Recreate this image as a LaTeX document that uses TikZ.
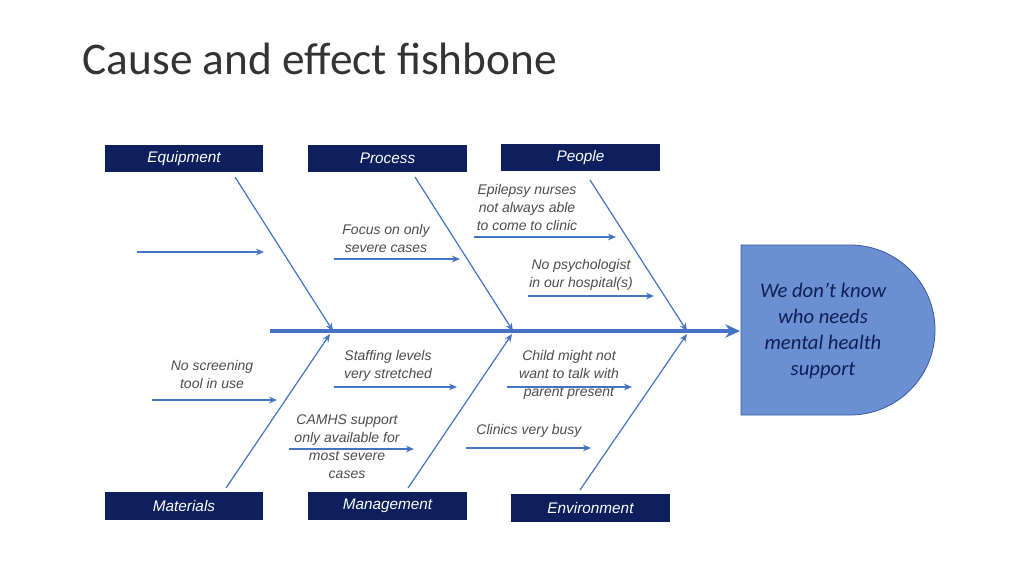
\documentclass[tikz,border=0pt]{standalone}
\usepackage{fontspec}
\setmainfont{Liberation Sans}
\newfontfamily\calib{Carlito}
\usetikzlibrary{arrows.meta}
\definecolor{navy}{HTML}{0D1F5C}
\definecolor{bone}{HTML}{4472C4}
\definecolor{headfill}{HTML}{6A8FD2}
\definecolor{headtext}{HTML}{0F1E55}
\tikzset{
  catbox/.style={fill=navy, text=white, minimum width=119pt, minimum height=20.5pt, inner sep=0pt, font=\itshape\fontsize{11.5}{13}\selectfont},
  cause/.style={align=center, text=black!70, font=\itshape\fontsize{10.5}{13.5}\selectfont, inner sep=0pt},
  bonearrow/.style={bone, line width=0.9pt, -{Stealth[length=6pt,width=5pt]}}
}
\begin{document}
\begin{tikzpicture}[x=0.75pt,y=-0.75pt]
\useasboundingbox (0,0) rectangle (1024,576);
\node[anchor=base west, font=\calib\fontsize{34}{40}\selectfont, text=black!80] (title) at (78,74) {Cause and effect fishbone};
% categories
\node[catbox] (equip) at (184,158.5) {Equipment};
\node[catbox] (proc) at (387.5,158.5) {Process};
\node[catbox] (people) at (580.5,157.5) {People};
\node[catbox] (mat) at (184,506) {Materials};
\node[catbox] (mgmt) at (387.5,506) {Management};
\node[catbox] (env) at (590.5,508) {Environment};
% effect head
\draw[fill=headfill, draw=bone!80!black, line width=0.6pt] (741,245) -- (850,245) arc[start angle=-90, end angle=90, radius=85] -- (741,415) -- cycle;
\node[align=center, text=headtext, font=\calib\itshape\fontsize{15.5}{19.5}\selectfont] (effect) at (823,331) {We don’t know\\who needs\\mental health\\support};
% spine
\coordinate (s0) at (270,331);
\coordinate (s1) at (740,331);
\draw[bone, line width=2.6pt, -{Stealth[length=11pt,width=10pt]}] (s0) -- (s1);
% bones
\coordinate (b1) at (235,177); \coordinate (e1) at (333,331);
\coordinate (b2) at (415,177); \coordinate (e2) at (513,331);
\coordinate (b3) at (590,180); \coordinate (e3) at (687,331);
\coordinate (b4) at (226,488); \coordinate (e4) at (330,334);
\coordinate (b5) at (408,488); \coordinate (e5) at (512,334);
\coordinate (b6) at (580,490); \coordinate (e6) at (687,334);
\foreach \i in {1,...,6} \draw[bonearrow] (b\i) -- (e\i);
% causes
\node[cause] (focus) at (386,238) {Focus on only\\severe cases};
\node[cause] (epil) at (527,207) {Epilepsy nurses\\not always able\\to come to clinic};
\node[cause] (psych) at (581,275) {No psychologist\\in our hospital(s)};
\node[cause] (screen) at (212,374) {No screening\\tool in use};
\node[cause] (staff) at (388,366) {Staffing levels\\very stretched};
\node[cause] (child) at (569,375) {Child might not\\want to talk with\\parent present};
\node[cause] (camhs) at (347,447) {CAMHS support\\only available for\\most severe\\cases};
\node[cause] (busy) at (529,431) {Clinics very busy};
\coordinate (h1a) at (137,252); \coordinate (h1b) at (264,252);
\coordinate (h2a) at (334,259); \coordinate (h2b) at (460,259);
\coordinate (h3a) at (474,237); \coordinate (h3b) at (616,237);
\coordinate (h4a) at (528,296); \coordinate (h4b) at (654,296);
\coordinate (h5a) at (152,400); \coordinate (h5b) at (277,400);
\coordinate (h6a) at (334,387); \coordinate (h6b) at (457,387);
\coordinate (h7a) at (507,387); \coordinate (h7b) at (632,387);
\coordinate (h8a) at (289,449); \coordinate (h8b) at (414,449);
\coordinate (h9a) at (466,448); \coordinate (h9b) at (591,448);
\foreach \i in {1,...,9} \draw[bonearrow] (h\i a) -- (h\i b);
\end{tikzpicture}
\end{document}
